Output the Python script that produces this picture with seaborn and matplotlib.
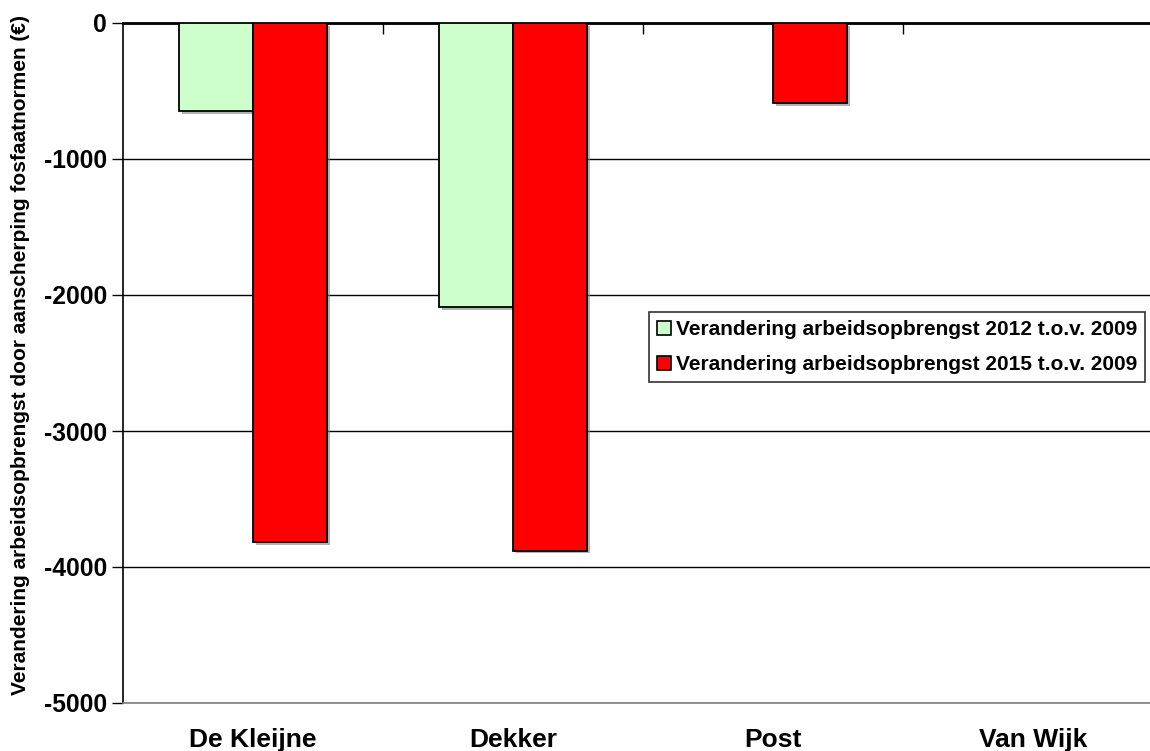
import matplotlib
matplotlib.use("Agg")
import matplotlib.pyplot as plt
import matplotlib.patheffects as pe
from matplotlib.patches import Patch
import seaborn as sns
import pandas as pd

# Farms and change in labour income (EUR) from stricter phosphate norms
bedrijven = ["De Kleijne", "Dekker", "Post", "Van Wijk"]
verandering_2012 = [-650, -2090, 0, 0]
verandering_2015 = [-3815, -3880, -590, 0]
reeksen = ["Verandering arbeidsopbrengst 2012 t.o.v. 2009",
           "Verandering arbeidsopbrengst 2015 t.o.v. 2009"]
kleuren = ["#CCFFCC", "#FF0000"]
y_ticks = [0, -1000, -2000, -3000, -4000, -5000]

df = pd.DataFrame({
    "bedrijf": bedrijven * 2,
    "waarde": verandering_2012 + verandering_2015,
    "reeks": [reeksen[0]] * len(bedrijven) + [reeksen[1]] * len(bedrijven),
})

sns.set_theme(style="white")
plt.rcParams["font.family"] = ["Liberation Sans", "DejaVu Sans"]
plt.rcParams["font.weight"] = "bold"
plt.rcParams["text.color"] = "black"
plt.rcParams["axes.labelcolor"] = "black"
plt.rcParams["xtick.color"] = "black"
plt.rcParams["ytick.color"] = "black"

fig = plt.figure(figsize=(11.5, 7.51), dpi=100)
ax = fig.add_axes([123 / 1150, 1 - 703 / 751, (1163 - 123) / 1150, 680 / 751])

sns.barplot(data=df, x="bedrijf", y="waarde", hue="reeks", order=bedrijven,
            hue_order=reeksen, palette=kleuren, width=0.57,
            edgecolor="black", linewidth=1.3, saturation=1, ax=ax,
            legend=False, zorder=3)

for bar in ax.patches:
    bar.set_path_effects([pe.SimplePatchShadow(offset=(2, -2), shadow_rgbFace="#808080", alpha=0.6),
                          pe.Normal()])

ax.set_ylim(-5000, 0)
ax.set_xlim(-0.5, 3.5)
ax.set_yticks(y_ticks)
ax.set_yticklabels([str(v) for v in y_ticks], fontsize=17.7, fontweight="bold")
ax.yaxis.grid(True, color="black", linewidth=1.0, zorder=0)
ax.set_axisbelow(True)

# Category labels at the bottom, boundary tick marks hanging from the zero line
ax.set_xticks(range(len(bedrijven)))
ax.set_xticklabels(bedrijven, fontsize=19, fontweight="bold")
ax.tick_params(axis="x", bottom=True, length=0, pad=18)
ax.set_xticks([0.5, 1.5, 2.5], minor=True)
ax.tick_params(axis="x", which="minor", top=True, bottom=False, direction="in", length=8, width=1, color="black")
ax.tick_params(axis="y", left=True, direction="out", length=8, width=1, color="black", pad=3.5)

ax.set_xlabel("")
ax.set_ylabel("Verandering arbeidsopbrengst door aanscherping fosfaatnormen (€)",
              fontsize=15, fontweight="bold")
ax.yaxis.set_label_coords(-0.0899, 0.512)

for side in ["left", "top"]:
    ax.spines[side].set_visible(True)
    ax.spines[side].set_color("black")
ax.spines["left"].set_linewidth(1.2)
ax.spines["top"].set_linewidth(2)
ax.spines["bottom"].set_color("#808080")
ax.spines["bottom"].set_linewidth(1.2)
ax.spines["right"].set_visible(False)

handles = [Patch(facecolor=c, edgecolor="black", linewidth=1.2) for c in kleuren]
leg = ax.legend(handles, reeksen, loc="upper left", bbox_to_anchor=(649 / 1150, 1 - 312 / 751),
                bbox_transform=fig.transFigure, frameon=True, fancybox=False,
                prop={"size": 15, "weight": "bold"}, handlelength=0.67, handleheight=0.67,
                handletextpad=0.24, labelspacing=0.79, borderpad=0.38, borderaxespad=0)
leg.get_frame().set_edgecolor("black")
leg.get_frame().set_linewidth(1.2)

fig.savefig("out.png", dpi=100)
